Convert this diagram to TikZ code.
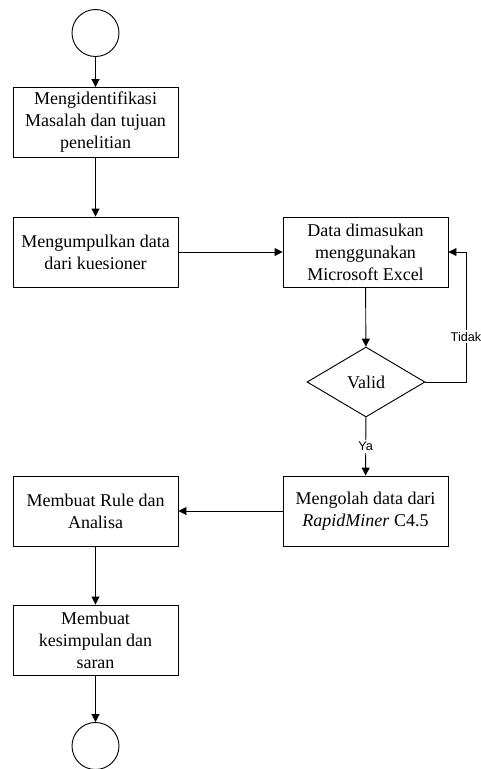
\documentclass[tikz,border=0pt]{standalone}
\usepackage{fontspec}
\setmainfont{Liberation Serif}
\newfontfamily\labelfont{Liberation Sans}
\usetikzlibrary{shapes.geometric,arrows.meta}

\tikzset{
  proses/.style={draw, rectangle, minimum width=123.75pt, minimum height=52.5pt, inner sep=0pt, align=center, font=\fontsize{13.5}{16.5}\selectfont},
  terminal/.style={draw, circle, minimum size=35.25pt, inner sep=0pt},
  keputusan/.style={draw, diamond, aspect=1.69, minimum width=88.5pt, minimum height=52.5pt, inner sep=0pt, font=\fontsize{13.5}{16.5}\selectfont},
  ket/.style={fill=white, inner sep=1.5pt, font=\labelfont\fontsize{9.5}{11}\selectfont},
  panah/.style={-{Triangle[length=6pt,width=6pt]}}
}

\begin{document}
\begin{tikzpicture}[x=0.75pt, y=-0.75pt, line width=0.7pt]
\useasboundingbox (0,0) rectangle (481,769);
\node[terminal] (mulai) at (95.5,33){};
\node[proses] (idn) at (95.5,122.5){Mengidentifikasi\\Masalah dan tujuan\\penelitian};
\node[proses] (kumpul) at (95.5,252){Mengumpulkan data\\dari kuesioner};
\node[proses] (excel) at (365.5,252){Data dimasukan\\menggunakan\\Microsoft Excel};
\node[keputusan] (valid) at (366,382){Valid};
\node[proses] (olah) at (365.5,511){Mengolah data dari\\\textit{RapidMiner} C4.5};
\node[proses] (rule) at (95.5,511){Membuat Rule dan\\Analisa};
\node[proses] (simpul) at (95.5,640){Membuat\\kesimpulan dan\\saran};
\node[terminal] (selesai) at (95.5,746){};
\coordinate (balik) at (466,382);
\coordinate (naik) at (466,252);
\draw[panah](mulai) -- (idn);
\draw[panah](idn) -- (kumpul);
\draw[panah](kumpul) -- (excel);
\draw[panah](excel) -- (valid);
\draw[panah](valid) -- node[ket]{Ya} (olah);
\draw[panah](valid.east) -- (balik) -- node[ket, pos=.35]{Tidak} (naik) -- (excel.east);
\draw[panah](olah) -- (rule);
\draw[panah](rule) -- (simpul);
\draw[panah](simpul) -- (selesai);
\end{tikzpicture}
\end{document}
